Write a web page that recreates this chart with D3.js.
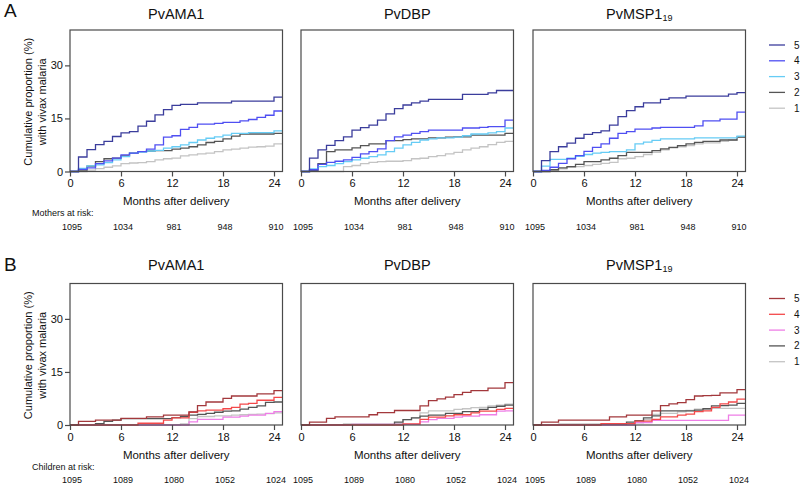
<!DOCTYPE html>
<html><head><meta charset="utf-8">
<script src="https://cdn.jsdelivr.net/npm/d3@7"></script>
<style>
html,body{margin:0;padding:0;background:#fff;}
svg{display:block;font-family:"Liberation Sans",Arial,Helvetica,sans-serif;}
</style></head>
<body>
<svg id="chart" width="800" height="484"></svg>
<script>
const antigens = ["PvAMA1", "PvDBP", "PvMSP1"];
const months = d3.range(0, 25);
const xTicks = [0, 6, 12, 18, 24];
const yTicks = [0, 15, 30];
const groups = ["5", "4", "3", "2", "1"];
const motherRisk = [1095, 1034, 981, 948, 910];
const childRisk = [1095, 1089, 1080, 1052, 1024];

// Mothers (panel A), values per month 0..24, order 5,4,3,2,1
const motherAMA1 = [
 [0,4.1,6.2,7.6,8.5,9.9,10.9,11.3,12.8,14.2,16.0,17.5,18.7,19.0,19.0,19.4,19.4,19.4,19.4,19.9,19.9,19.9,19.9,19.9,21.0],
 [0,0.6,1.0,2.2,3.0,3.8,4.7,5.2,5.6,6.3,7.5,9.7,10.1,11.9,12.5,13.4,13.4,13.6,13.9,13.9,14.3,14.7,15.3,15.9,17.1],
 [0,0.9,1.6,1.9,2.5,3.3,4.2,5.2,5.5,5.8,6.0,6.6,7.0,7.5,8.2,8.9,9.4,9.8,10.3,10.8,10.8,11.0,11.0,11.0,11.5],
 [0,0.4,1.5,2.8,3.6,3.8,4.4,5.2,5.6,5.8,5.9,5.9,6.3,6.6,7.0,7.5,8.2,8.5,9.2,10.0,10.6,10.6,10.6,10.6,10.8],
 [0,0,0.4,0.8,1.2,1.6,2.2,2.4,2.5,2.8,3.3,3.6,3.8,4.4,4.7,5.0,5.2,5.6,6.1,6.3,6.6,6.9,7.0,7.2,7.8]
];
const motherDBP = [
 [0,3.8,6.1,7.4,8.7,9.8,11.7,12.4,13.1,14.5,16.3,17.8,18.8,19.4,19.9,20.4,20.4,20.4,20.4,21.8,21.8,21.8,22.2,22.9,22.9],
 [0,0.5,2.0,2.6,2.9,3.3,4.0,5.0,5.6,6.4,8.7,9.8,10.3,10.8,11.3,11.7,11.7,11.7,11.7,12.3,12.3,12.5,12.7,12.7,14.5],
 [0,0.75,1.4,1.7,2.2,2.8,3.3,3.75,4.2,4.7,5.6,6.6,7.5,8.25,8.9,9.2,9.5,9.5,9.7,10.1,10.6,10.6,10.9,11.3,12.3],
 [0,0.3,2.2,5.6,6.1,6.1,6.7,7.3,7.8,7.8,8.7,8.7,9.0,9.2,9.2,9.5,9.5,9.7,9.8,9.8,10.3,10.3,10.3,10.3,10.8],
 [0,0,0,0,0,1.4,1.7,2.2,2.6,2.8,2.9,2.9,3.1,3.6,3.75,4.2,4.5,5.0,5.4,6.1,6.6,7.0,7.6,8.25,8.5]
];
const motherMSP1 = [
 [0,3.1,5.6,7.0,8.0,9.4,10.5,11.0,11.5,13.1,15.5,17.2,18.3,19.4,19.4,20.4,20.8,20.8,21.3,21.3,21.3,21.3,21.3,21.9,22.3],
 [0,0.3,1.2,2.3,3.6,4.5,5.7,6.8,7.8,9.4,10.8,11.3,12.0,12.0,12.3,12.5,12.5,12.5,12.5,12.9,14.3,14.3,14.8,14.8,16.8],
 [0,1.5,3.4,3.4,3.8,4.3,4.8,5.2,5.4,5.6,5.6,6.1,7.8,8.3,8.8,9.2,9.2,9.2,9.2,9.5,9.5,9.5,9.5,9.5,10.0],
 [0,0,0.5,1.0,1.4,2.0,2.8,2.8,3.3,3.75,4.5,5.4,5.4,5.4,5.9,6.4,6.8,7.3,7.8,8.25,8.5,8.5,8.9,8.9,9.7],
 [0,0,0.3,0.75,1.2,1.4,1.7,2.0,2.3,2.6,3.6,3.75,4.2,4.8,5.4,6.1,6.7,7.0,7.3,7.8,8.1,8.1,8.5,8.9,9.7]
];
// Children (panel B)
const childAMA1 = [
 [0,1.0,1.0,1.4,1.4,1.4,1.9,1.9,1.9,2.3,2.3,2.8,2.8,2.8,3.7,5.5,6.5,6.5,7.5,8.2,8.2,8.2,8.8,8.8,9.7],
 [0,0,0,0,0,0,0,0,0.5,0.5,0.5,1.4,2.0,2.0,3.6,4.0,4.2,4.2,4.6,5.0,5.9,6.1,7.0,7.0,7.8],
 [0,0,0,0,0,0,0,0,0,0,0,0,0,0,0.9,1.6,1.6,1.6,2.2,2.2,2.5,2.8,2.8,3.3,3.8],
 [0,0,0,0.4,1.0,1.4,1.8,1.8,1.8,1.8,1.8,1.8,2.1,2.4,2.8,3.0,3.3,3.6,3.9,4.0,4.5,5.0,5.4,6.4,6.5],
 [0,0,0,0,0,0,0,0,0,0,0,0,0,0.3,1.8,2.4,2.4,2.6,2.6,2.8,2.9,3.0,3.1,3.2,3.4]
];
const childDBP = [
 [0,0.8,0.8,1.9,2.3,2.3,2.3,2.3,2.9,3.5,3.5,4.1,4.1,4.1,5.4,6.9,7.4,7.9,8.6,9.2,9.7,9.7,10.4,10.4,12.0],
 [0,0,0,0,0,0,0,0,0,0,0,0,0.3,0.3,1.6,2.2,2.2,2.6,2.9,2.9,3.4,3.9,3.9,4.4,4.7],
 [0,0,0,0,0,0,0.2,0.2,0.2,0.2,0.2,0.2,0.2,0.2,0.9,1.5,1.9,1.9,2.2,2.5,2.5,2.9,2.9,3.9,4.0],
 [0,0,0,0,0,0.2,0.2,0.2,0.2,0.2,0.2,0.8,1.5,2.0,2.5,2.8,2.8,3.3,3.3,3.8,3.8,4.4,5.0,5.3,5.6],
 [0,0,0,0,0,0,0,0,0,0,0,0.5,1.5,2.0,3.4,4.0,4.0,4.0,4.4,4.6,4.9,5.0,5.4,5.6,5.9]
];
const childMSP1 = [
 [0,0.8,0.8,1.4,1.4,1.4,1.4,1.4,1.4,2.3,2.3,2.8,2.8,2.8,4.0,5.5,6.0,6.3,7.2,8.2,8.3,8.4,9.1,9.1,10.0],
 [0,0,0,0,0,0,0,0,0.4,0.4,0.4,0.4,1.1,1.1,1.6,2.3,2.3,2.8,3.1,3.8,4.0,5.0,6.0,6.5,7.3],
 [0,0,0,0,0,0,0,0,0,0,0,0,0.7,0.7,1.3,1.3,1.3,1.3,1.3,1.3,1.3,1.3,1.3,2.8,2.8],
 [0,0,0,0.2,0.2,0.2,0.2,0.2,0.2,0.2,0.2,0.8,1.2,2.0,2.6,4.0,4.0,4.0,4.0,4.2,4.6,5.4,5.5,5.6,6.1],
 [0,0,0,0,0,0,0,0,0,0,0,0,0.6,1.5,3.0,3.3,3.3,3.7,4.1,4.5,4.5,4.7,4.7,4.7,4.7]
];

const colorsA = ["#3b3d9c", "#4f4ff2", "#66ccf5", "#555555", "#c4c4c4"];
const colorsB = ["#a3383c", "#f4484a", "#ee7ee6", "#555555", "#c4c4c4"];

const svg = d3.select("#chart");
const axisColor = "#4a4a4a";
const colX = [70, 301, 533];
const plotW = 212.5;

const rows = [
  {label: "A", top: 30, zero: 171.5, data: [motherAMA1, motherDBP, motherMSP1], colors: colorsA,
   riskLabel: "Mothers at risk:", risk: motherRisk, titleY: 19, legendY: 45},
  {label: "B", top: 283.5, zero: 425, data: [childAMA1, childDBP, childMSP1], colors: colorsB,
   riskLabel: "Children at risk:", risk: childRisk, titleY: 270, legendY: 298.5}
];

rows.forEach(row => {
  svg.append("text").attr("x", 4).attr("y", row.top - 13).attr("font-size", 19)
    .attr("fill", "#111").text(row.label);
  const y = d3.scaleLinear().domain([0, 40]).range([row.zero, row.top]);

  row.data.forEach((series, ci) => {
    const x0 = colX[ci];
    const x = d3.scaleLinear().domain([0, 25]).range([x0, x0 + plotW]);
    const g = svg.append("g");

    const t = g.append("text").attr("x", x0 + plotW / 2).attr("y", row.titleY)
      .attr("text-anchor", "middle").attr("font-size", 14.5).attr("fill", "#111");
    t.append("tspan").text(antigens[ci]);
    if (ci === 2) t.append("tspan").attr("font-size", 9).attr("dy", 2).text("19");

    const line = d3.line().x(d => x(d[0])).y(d => y(d[1])).curve(d3.curveStepAfter);
    for (let si = series.length - 1; si >= 0; si--) {
      const vals = series[si];
      const pts = months.map(m => [m, vals[m]]);
      pts.push([25, vals[24]]);
      g.append("path").attr("d", line(pts)).attr("fill", "none")
        .attr("stroke", row.colors[si]).attr("stroke-width", 1.3);
    }

    g.append("rect").attr("x", x0).attr("y", row.top).attr("width", plotW)
      .attr("height", row.zero - row.top).attr("fill", "none")
      .attr("stroke", axisColor).attr("stroke-width", 1.2);

    const xa = g.append("g").attr("transform", `translate(0,${row.zero})`)
      .call(d3.axisBottom(x).tickValues(xTicks).tickSize(5).tickPadding(3));
    xa.select(".domain").remove();
    xa.selectAll("line").attr("stroke", axisColor).attr("stroke-width", 1.2);
    xa.selectAll("text").attr("font-size", 11).attr("fill", "#111")
      .attr("font-family", "Liberation Sans, Arial, sans-serif");

    if (ci === 0) {
      const ya = g.append("g").attr("transform", `translate(${x0},0)`)
        .call(d3.axisLeft(y).tickValues(yTicks).tickSize(5).tickPadding(2));
      ya.select(".domain").remove();
      ya.selectAll("line").attr("stroke", axisColor).attr("stroke-width", 1.2);
      ya.selectAll("text").attr("font-size", 11).attr("fill", "#111")
        .attr("font-family", "Liberation Sans, Arial, sans-serif");
      const cy = (row.top + row.zero) / 2 + 1;
      const yl = g.append("text").attr("transform", `translate(32,${cy}) rotate(-90)`)
        .attr("text-anchor", "middle").attr("font-size", 11).attr("fill", "#111");
      yl.append("tspan").attr("x", 0).attr("dy", 0).text("Cumulative proportion (%)");
      yl.append("tspan").attr("x", 0).attr("dy", 14).text("with vivax malaria");

      g.append("text").attr("x", 32).attr("y", row.zero + 44.5).attr("font-size", 9)
        .attr("fill", "#111").text(row.riskLabel);
    }

    g.append("text").attr("x", x0 + plotW / 2).attr("y", row.zero + 33.5)
      .attr("text-anchor", "middle").attr("font-size", 11.5).attr("fill", "#111")
      .text("Months after delivery");

    g.selectAll(".risk").data(row.risk).join("text")
      .attr("x", (d, i) => x(xTicks[i]) + 2).attr("y", row.zero + 58)
      .attr("text-anchor", "middle").attr("font-size", 9).attr("fill", "#111")
      .text(d => d);
  });

  const lg = svg.append("g");
  groups.forEach((gname, i) => {
    const ly = row.legendY + i * 15.8;
    lg.append("line").attr("x1", 769).attr("x2", 785).attr("y1", ly).attr("y2", ly)
      .attr("stroke", row.colors[i]).attr("stroke-width", 1.3);
    lg.append("text").attr("x", 794).attr("y", ly + 3.5).attr("font-size", 10)
      .attr("fill", "#111").text(gname);
  });
});
</script>
</body></html>
